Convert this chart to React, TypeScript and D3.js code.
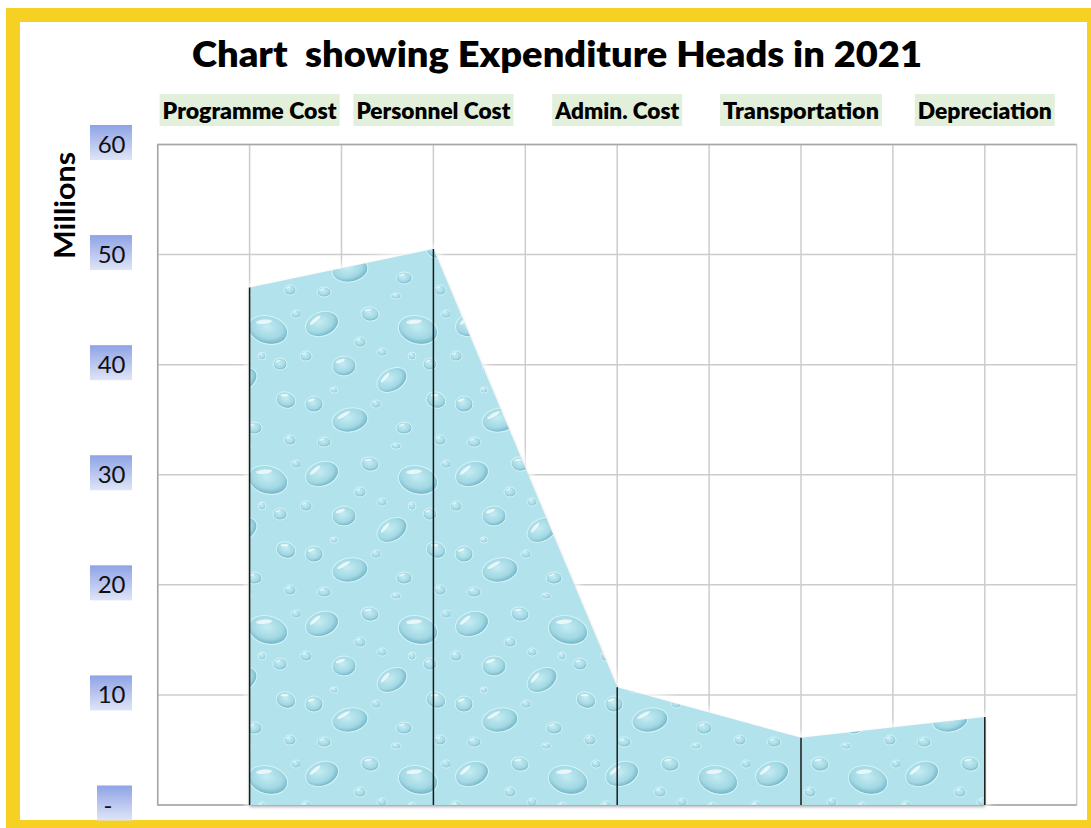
import React, { useEffect, useRef } from 'react';
import * as d3 from 'd3';

// expenditure heads (millions)
const categories: string[] = ['Programme Cost', 'Personnel Cost', 'Admin. Cost', 'Transportation', 'Depreciation'];
const amounts: number[] = [47.0, 50.5, 10.7, 6.1, 8.0];
const yTicks: number[] = [0, 10, 20, 30, 40, 50, 60];
const chartTitle = 'Chart  showing Expenditure Heads in 2021';
const yTitle = 'Millions';

// label widths as measured on the picture (layout only)
const labelWidths: number[] = [174, 154, 124, 156, 134];

// water drop texture, only decoration inside the pattern tile: cx, cy, rx, ry, angle
const drops: [number, number, number, number, number][] = [
    [22, 24, 17, 12, -20], [70, 14, 9, 7, 10], [118, 30, 20, 14, 15], [44, 66, 12, 10, 0],
    [92, 80, 16, 11, -30], [14, 104, 9, 8, 0], [60, 42, 6, 5, 0], [136, 100, 10, 8, 20],
    [50, 120, 18, 12, -10], [104, 128, 8, 6, 0], [140, 140, 6, 5, 0], [6, 56, 6, 5, 0],
    [82, 52, 5, 4, 0], [130, 64, 7, 6, 0], [24, 142, 7, 5, 0], [76, 104, 5, 4, 0],
    [112, 56, 4, 4, 0], [34, 90, 4, 3, 0], [146, 14, 5, 4, 0], [96, 146, 5, 3, 0],
];

const W = 1091;
const H = 828;

const App: React.FC = () => {
    const ref = useRef<SVGSVGElement>(null);

    useEffect(() => {
        document.body.style.margin = '0';
        if (!ref.current) return;
        const svg = d3.select(ref.current);
        svg.selectAll('*').remove();

        const font = 'Lato, "Open Sans", sans-serif';
        const plot = { left: 157.7, right: 1076.7, top: 144.5, bottom: 805 };

        const x = d3.scalePoint<string>().domain(categories).range([plot.left, plot.right]).padding(0.5);
        const y = d3.scaleLinear().domain([0, 60]).range([plot.bottom, plot.top]);
        const step = x.step();

        const defs = svg.append('defs');
        const grad = defs.append('radialGradient').attr('id', 'dropGrad')
            .attr('cx', '0.45').attr('cy', '0.4').attr('r', '0.62');
        grad.append('stop').attr('offset', '0%').attr('stop-color', '#c4ecf3');
        grad.append('stop').attr('offset', '65%').attr('stop-color', '#a2d8e3');
        grad.append('stop').attr('offset', '92%').attr('stop-color', '#78b9cb');
        grad.append('stop').attr('offset', '100%').attr('stop-color', '#c9eff5');

        const pat = defs.append('pattern').attr('id', 'water')
            .attr('patternUnits', 'userSpaceOnUse').attr('width', 150).attr('height', 150);
        pat.append('rect').attr('width', 150).attr('height', 150).attr('fill', '#b2e3ec');
        drops.forEach(([cx, cy, rx, ry, a]) => {
            const g = pat.append('g').attr('transform', `translate(${cx},${cy}) rotate(${a})`);
            g.append('ellipse').attr('rx', rx).attr('ry', ry)
                .attr('fill', 'url(#dropGrad)').attr('stroke', '#d4f4f8').attr('stroke-width', 1);
            g.append('ellipse').attr('cx', -rx * 0.3).attr('cy', -ry * 0.5)
                .attr('rx', rx * 0.4).attr('ry', ry * 0.15).attr('fill', '#ffffff').attr('opacity', 0.7)
                .attr('transform', `rotate(-20 ${-rx * 0.3} ${-ry * 0.5})`);
        });

        const shadow = defs.append('filter').attr('id', 'areaShadow')
            .attr('x', '-5%').attr('y', '-5%').attr('width', '110%').attr('height', '110%');
        shadow.append('feDropShadow').attr('dx', 0).attr('dy', 2).attr('stdDeviation', 1.5)
            .attr('flood-color', '#666').attr('flood-opacity', 0.5);
        const glow = defs.append('filter').attr('id', 'glow');
        glow.append('feGaussianBlur').attr('stdDeviation', 3);

        const blueBox = defs.append('linearGradient').attr('id', 'tickBox')
            .attr('x1', 0).attr('y1', 0).attr('x2', 0).attr('y2', 1);
        blueBox.append('stop').attr('offset', '0%').attr('stop-color', '#8ea3e6');
        blueBox.append('stop').attr('offset', '100%').attr('stop-color', '#dfe5f7');

        // yellow frame
        svg.append('rect').attr('x', 6).attr('y', 8).attr('width', W).attr('height', H).attr('fill', '#f6d124');
        svg.append('rect').attr('x', 20).attr('y', 22).attr('width', 1067).attr('height', 798).attr('fill', '#ffffff');

        // gridlines
        const grid = svg.append('g');
        grid.selectAll('line.h').data(yTicks).enter().append('line')
            .attr('x1', plot.left).attr('x2', plot.right)
            .attr('y1', (d: number) => y(d)).attr('y2', (d: number) => y(d))
            .attr('stroke', '#cccccc').attr('stroke-width', 1.5);
        const vLines: number[] = [];
        categories.forEach((c) => {
            vLines.push((x(c) as number) - step / 2, x(c) as number);
        });
        vLines.push(plot.right);
        grid.selectAll('line.v').data(vLines).enter().append('line')
            .attr('x1', (d: number) => d).attr('x2', (d: number) => d)
            .attr('y1', plot.top).attr('y2', plot.bottom)
            .attr('stroke', '#cccccc').attr('stroke-width', 1.5);
        // plot border
        svg.append('path')
            .attr('d', `M${plot.right},${plot.top}H${plot.left}V${plot.bottom}H${plot.right}`)
            .attr('fill', 'none').attr('stroke', '#a6a6a6').attr('stroke-width', 1.5);

        // area
        const area = d3.area<number>()
            .x((_d: number, i: number) => x(categories[i]) as number)
            .y0(y(0))
            .y1((d: number) => y(d));
        svg.append('path').attr('d', area(amounts))
            .attr('fill', 'none').attr('stroke', '#ffffff').attr('stroke-width', 8)
            .attr('opacity', 0.9).attr('filter', 'url(#glow)');
        svg.append('path').attr('d', area(amounts))
            .attr('fill', 'url(#water)').attr('filter', 'url(#areaShadow)');

        // drop lines
        svg.append('g').selectAll('line').data(amounts).enter().append('line')
            .attr('x1', (_d: number, i: number) => x(categories[i]) as number)
            .attr('x2', (_d: number, i: number) => x(categories[i]) as number)
            .attr('y1', (d: number) => y(d)).attr('y2', y(0))
            .attr('stroke', '#1a1a1a').attr('stroke-width', 1.5);

        // y tick labels in blue boxes
        const tickG = svg.append('g');
        yTicks.forEach((t) => {
            const label = t === 0 ? '-' : String(t);
            const cy = y(t) - 2;
            const boxLeft = t === 0 ? 97 : 90;
            tickG.append('rect').attr('x', boxLeft).attr('y', cy - 17.5)
                .attr('width', 132 - boxLeft).attr('height', 35).attr('fill', 'url(#tickBox)');
            tickG.append('text').attr('x', t === 0 ? 112.5 : 125.5).attr('y', y(t) + 8.5)
                .attr('text-anchor', 'end').style('font-family', font).style('font-size', '24px')
                .style('fill', '#111').text(label);
        });

        // y title
        svg.append('text').attr('transform', 'translate(75,205.5) rotate(-90)')
            .attr('text-anchor', 'middle').attr('textLength', 107).attr('lengthAdjust', 'spacingAndGlyphs')
            .style('font-family', font).style('font-weight', 700).style('font-size', '29px')
            .style('fill', '#000').text(yTitle);

        // chart title
        svg.append('text').attr('x', 192).attr('y', 66.7)
            .attr('textLength', 730).attr('lengthAdjust', 'spacingAndGlyphs')
            .style('white-space', 'pre')
            .style('font-family', font).style('font-weight', 800).style('font-size', '35px')
            .style('fill', '#000').text(chartTitle);

        // category labels along the top
        const catG = svg.append('g');
        categories.forEach((c, i) => {
            const cx = x(c) as number;
            const len = labelWidths[i];
            catG.append('rect').attr('x', cx - len / 2 - 3).attr('y', 94)
                .attr('width', len + 6).attr('height', 32).attr('fill', '#e2efda');
            catG.append('text').attr('x', cx - len / 2).attr('y', 119)
                .attr('textLength', len).attr('lengthAdjust', 'spacingAndGlyphs')
                .style('font-family', font).style('font-weight', 800).style('font-size', '22px')
                .style('fill', '#000').text(c);
        });
    }, []);

    return <svg ref={ref} width={W} height={H} style={{ display: 'block' }} />;
};

export default App;
